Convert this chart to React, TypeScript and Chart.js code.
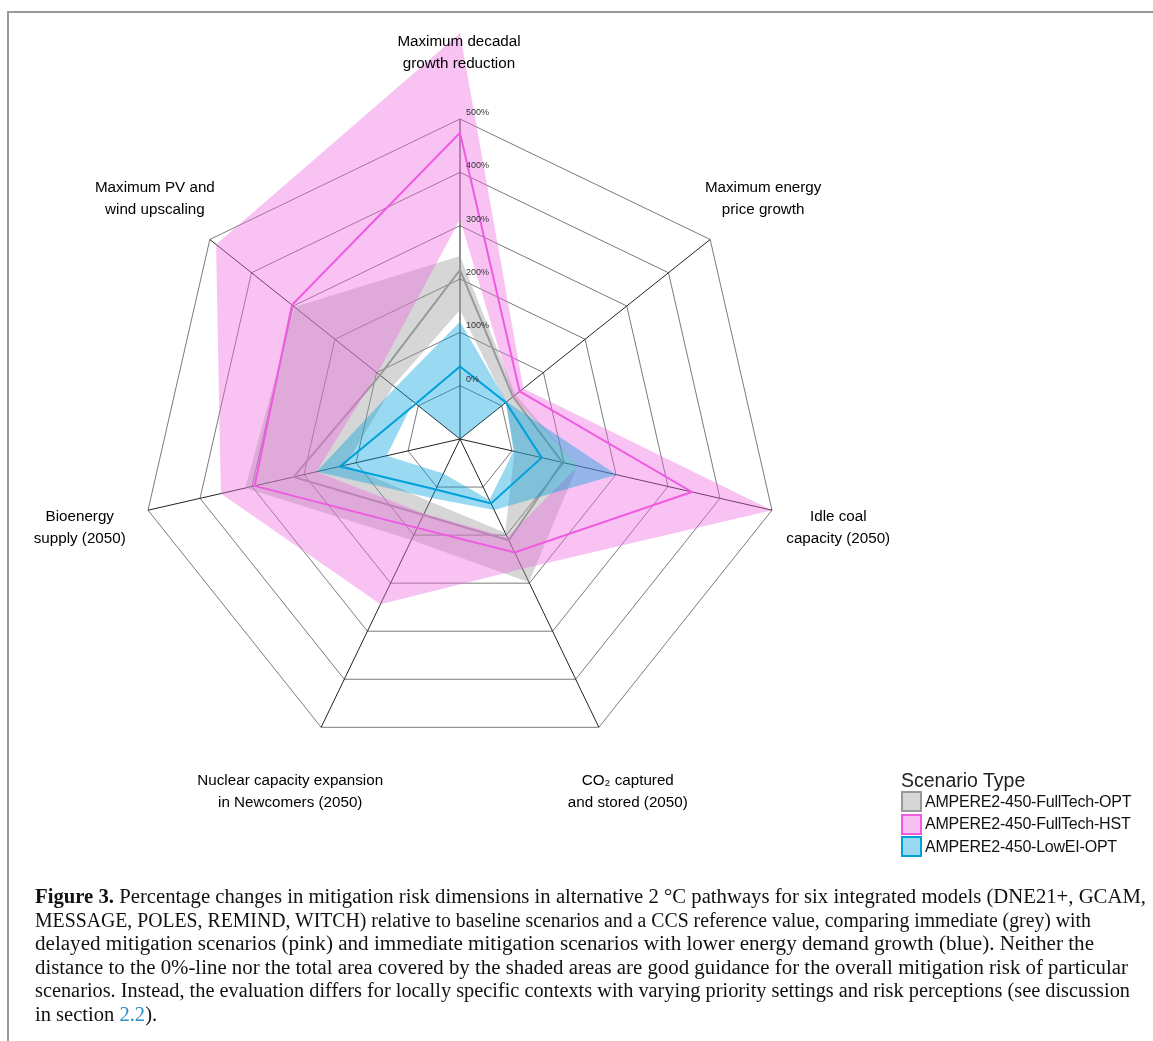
import React, { useEffect, useLayoutEffect, useRef } from "react";
import { Chart, registerables } from "chart.js";

Chart.register(...registerables);

// ---------- data ----------
const axisLabels: string[][] = [
  ["Maximum decadal", "growth reduction"],
  ["Maximum energy", "price growth"],
  ["Idle coal", "capacity (2050)"],
  ["CO\u2082 captured", "and stored (2050)"],
  ["Nuclear capacity expansion", "in Newcomers (2050)"],
  ["Bioenergy", "supply (2050)"],
  ["Maximum PV and", "wind upscaling"],
];
const tickValues = [0, 100, 200, 300, 400, 500];
const scenarioNames = [
  "AMPERE2-450-FullTech-OPT",
  "AMPERE2-450-FullTech-HST",
  "AMPERE2-450-LowEI-OPT",
];

// AMPERE2-450-FullTech-OPT (grey)
const greyMin = [142, 10, 5, 95, 30, 120, 60];
const greyMid = [217, 27, 97, 111, 58, 220, 92];
const greyMax = [243, 33, 126, 198, 110, 313, 297];

// AMPERE2-450-FullTech-HST (pink)
const pinkMin = [312, 27, 127, 105, 55, 176, 98];
const pinkMid = [474, 43, 346, 136, 85, 295, 303];
const pinkMax = [661, 52, 500, 170, 244, 360, 485];

// AMPERE2-450-LowEI-OPT (blue)
const blueMin = [-100, 10, 3, 27, -28, 41, 12];
const blueMid = [36, 10, 57, 34, 5, 131, 6];
const blueMax = [120, 12, 201, 48, 23, 176, 55];

// ---------- styles ----------
const GREY = "#999999";
const PINK = "#F05AE2";
const BLUE = "#00A0DC";
const GREY_FILL = "rgba(153,153,153,0.4)";
const PINK_FILL = "rgba(238,103,224,0.4)";
const BLUE_FILL = "rgba(0,160,220,0.4)";
const legendFills = ["#D6D6D6", "#F8C0F2", "#99D9F1"];
const legendBorders = [GREY, PINK, BLUE];

const SANS = '"Liberation Sans", Arial, Helvetica, sans-serif';

const captionLines: React.ReactNode[] = [
  <>
    <b>Figure 3.</b> Percentage changes in mitigation risk dimensions in alternative 2 °C pathways for six integrated models (DNE21+, GCAM,
  </>,
  <>MESSAGE, POLES, REMIND, WITCH) relative to baseline scenarios and a CCS reference value, comparing immediate (grey) with</>,
  <>delayed mitigation scenarios (pink) and immediate mitigation scenarios with lower energy demand growth (blue). Neither the</>,
  <>distance to the 0%-line nor the total area covered by the shaded areas are good guidance for the overall mitigation risk of particular</>,
  <>scenarios. Instead, the evaluation differs for locally specific contexts with varying priority settings and risk perceptions (see discussion</>,
  <>
    in section <span style={{ color: "#2A8FC8" }}>2.2</span>).
  </>,
];
const captionWidths = [1111, 1056, 1059, 1093, 1095, 0];

function band(min: number[], max: number[], mid: number[], fill: string, line: string, baseOrder: number) {
  return [
    {
      label: "min",
      data: min,
      fill: false,
      borderColor: "rgba(0,0,0,0)",
      borderWidth: 0,
      pointRadius: 0,
      order: baseOrder + 2,
    },
    {
      label: "max",
      data: max,
      fill: "-1",
      backgroundColor: fill,
      borderColor: "rgba(0,0,0,0)",
      borderWidth: 0,
      pointRadius: 0,
      order: baseOrder + 1,
    },
    {
      label: "mid",
      data: mid,
      fill: false,
      borderColor: line,
      borderWidth: 2,
      pointRadius: 0,
      order: baseOrder,
    },
  ];
}

const overlayPlugin = {
  id: "overlayText",
  afterDatasetsDraw(chart: any) {
    const scale = chart.scales.r;
    const ctx = chart.ctx as CanvasRenderingContext2D;
    ctx.save();
    ctx.font = `9px ${SANS}`;
    ctx.fillStyle = "#333";
    ctx.textAlign = "left";
    ctx.textBaseline = "middle";
    tickValues.forEach((v) => {
      const p = scale.getPointPosition(0, scale.getDistanceFromCenterForValue(v));
      ctx.fillText(`${v}%`, p.x + 6, p.y - 6.5);
    });
    ctx.font = `15.2px ${SANS}`;
    ctx.fillStyle = "#000";
    ctx.textAlign = "center";
    axisLabels.forEach((lines, i) => {
      const p = scale.getPointPosition(i, (scale.drawingArea * 389) / 320);
      lines.forEach((t, j) => {
        ctx.fillText(t, p.x - 1, p.y + 2.5 + (j - (lines.length - 1) / 2) * 22);
      });
    });
    ctx.restore();
  },
};

export default function App() {
  const canvasRef = useRef<HTMLCanvasElement>(null);
  const lineRefs = useRef<(HTMLSpanElement | null)[]>([]);

  useEffect(() => {
    const canvas = canvasRef.current!;
    const chart = new Chart(canvas, {
      type: "radar",
      data: {
        labels: axisLabels.map((l) => l.join(" ")),
        datasets: [
          ...band(greyMin, greyMax, greyMid, GREY_FILL, GREY, 7),
          ...band(pinkMin, pinkMax, pinkMid, PINK_FILL, PINK, 4),
          ...band(blueMin, blueMax, blueMid, BLUE_FILL, BLUE, 1),
        ] as any,
      },
      options: {
        responsive: false,
        animation: false,
        events: [],
        layout: { padding: { left: 140, right: 373, top: 0, bottom: 163 } },
        plugins: {
          legend: { display: false },
          tooltip: { enabled: false },
          title: { display: false },
        },
        elements: { point: { radius: 0, hoverRadius: 0 }, line: { tension: 0 } },
        scales: {
          r: {
            min: -100,
            max: 500,
            ticks: { display: false, stepSize: 100 },
            pointLabels: { display: false },
            grid: { color: "#7a7a7a", lineWidth: 1 },
            angleLines: { color: "#222", lineWidth: 1 },
          },
        },
      } as any,
      plugins: [overlayPlugin],
    });
    return () => chart.destroy();
  }, []);

  useLayoutEffect(() => {
    const fit = () => {
      const scales: number[] = [];
      lineRefs.current.forEach((el, i) => {
        if (!el) return;
        el.style.transform = "none";
        const w = el.getBoundingClientRect().width;
        if (w > 0 && captionWidths[i] > 0) {
          const s = captionWidths[i] / w;
          scales.push(s);
          el.style.transform = `scaleX(${s})`;
        }
      });
      const mean = scales.length ? scales.reduce((a, b) => a + b, 0) / scales.length : 1;
      lineRefs.current.forEach((el, i) => {
        if (el && captionWidths[i] === 0) el.style.transform = `scaleX(${mean})`;
      });
    };
    fit();
    (document as any).fonts?.ready?.then(fit);
  }, []);

  return (
    <div
      style={{
        position: "fixed",
        left: 0,
        top: 0,
        width: 1153,
        height: 1041,
        overflow: "hidden",
        background: "#fff",
      }}
    >
      <canvas
        ref={canvasRef}
        width={1153}
        height={1041}
        style={{ position: "absolute", left: 0, top: 0, width: 1153, height: 1041 }}
      />
      {/* frame */}
      <div style={{ position: "absolute", left: 7, top: 11, width: 1146, height: 2, background: "#999" }} />
      <div style={{ position: "absolute", left: 7, top: 11, width: 2, height: 1030, background: "#999" }} />

      {/* legend */}
      <div
        style={{
          position: "absolute",
          left: 901,
          top: 768,
          fontFamily: SANS,
          fontSize: 19.5,
          lineHeight: "24px",
          color: "#222",
          whiteSpace: "nowrap",
        }}
      >
        Scenario Type
      </div>
      {scenarioNames.map((name, i) => (
        <div
          key={name}
          style={{
            position: "absolute",
            left: 901,
            top: 791 + i * 22.7,
            height: 21,
            display: "flex",
            alignItems: "center",
            fontFamily: SANS,
            whiteSpace: "nowrap",
          }}
        >
          <span
            style={{
              display: "inline-block",
              width: 17,
              height: 17,
              border: `2px solid ${legendBorders[i]}`,
              background: legendFills[i],
            }}
          />
          <span style={{ marginLeft: 3, fontSize: 16, letterSpacing: "-0.22px", color: "#111" }}>{name}</span>
        </div>
      ))}

      {/* caption */}
      {captionLines.map((content, i) => (
        <div
          key={i}
          style={{
            position: "absolute",
            left: 35,
            top: 885 + i * 23.5,
            height: 23.5,
            lineHeight: "23.5px",
            fontFamily: '"Liberation Serif", "Times New Roman", serif',
            fontSize: 20.5,
            color: "#111",
            whiteSpace: "nowrap",
          }}
        >
          <span
            ref={(el) => {
              lineRefs.current[i] = el;
            }}
            style={{ display: "inline-block", transformOrigin: "0 0" }}
          >
            {content}
          </span>
        </div>
      ))}
    </div>
  );
}
